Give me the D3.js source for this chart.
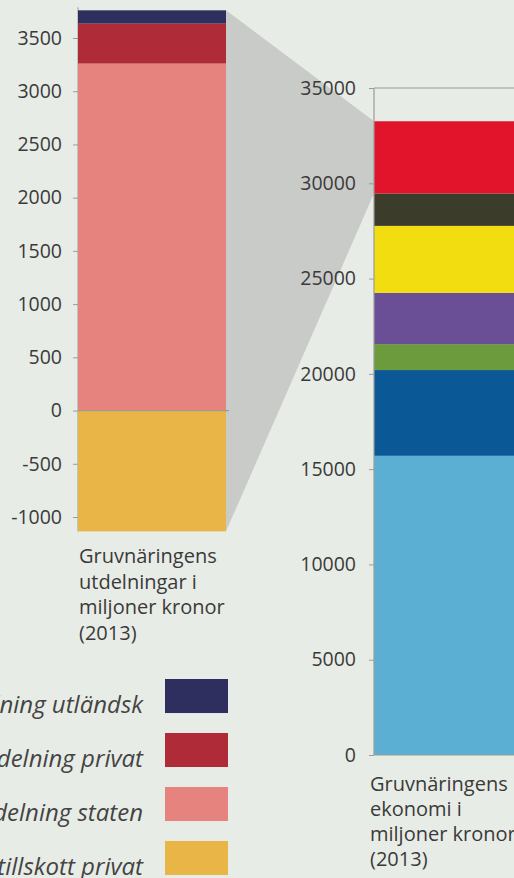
<!DOCTYPE html>
<html>
<head>
<meta charset="utf-8">
<script src="https://cdn.jsdelivr.net/npm/d3@7"></script>
<style>
  html, body { margin: 0; padding: 0; background: #e8ece6; }
  svg { display: block; }
  text { font-family: "Open Sans", "Noto Sans", sans-serif; }
</style>
</head>
<body>
<svg id="chart" width="514" height="878"></svg>
<script>
// ---- Data ----
// Left chart: distributions (bottom to top)
const leftCategories = ["Kapitaltillskott privat", "Utdelning staten", "Utdelning privat", "Utdelning utländsk"];
const leftValues = [-1135, 3260, 375, 125];
const leftColors = ["#eab547", "#e6837f", "#ae2b37", "#2f2f5f"];
const leftTicks = [-1000, -500, 0, 500, 1000, 1500, 2000, 2500, 3000, 3500];
const leftLabel = ["Gruvnäringens", "utdelningar i", "miljoner kronor", "(2013)"];

// Right chart: economy (bottom to top)
const rightCategories = ["Post 1", "Post 2", "Post 3", "Post 4", "Post 5", "Post 6", "Utdelningar"];
const rightValues = [15700, 4500, 1360, 2690, 3515, 1700, 3790];
const rightColors = ["#5aafd3", "#0a5896", "#6b9b3d", "#6a4f97", "#f2dd10", "#3b3c2a", "#e1142c"];
const rightTicks = [0, 5000, 10000, 15000, 20000, 25000, 30000, 35000];
const rightLabel = ["Gruvnäringens", "ekonomi i", "miljoner kronor", "(2013)"];

// Legend (top to bottom)
const legendOrder = ["Utdelning utländsk", "Utdelning privat", "Utdelning staten", "Kapitaltillskott privat"];

// ---- Layout ----
const svg = d3.select("#chart");
const axisColor = "#9a9c99";
const textColor = "#3a3a3a";
const fmt = d => String(d);

function stackSegments(cats, vals) {
  let pos = 0, neg = 0;
  return cats.map((c, i) => {
    const v = vals[i];
    let y0, y1;
    if (v >= 0) { y0 = pos; y1 = pos + v; pos = y1; }
    else { y1 = neg; y0 = neg + v; neg = y0; }
    return { cat: c, value: v, y0, y1, i };
  });
}

const leftSegs = stackSegments(leftCategories, leftValues);
const rightSegs = stackSegments(rightCategories, rightValues);
const leftMax = d3.max(leftSegs, d => d.y1);
const leftMin = d3.min(leftSegs, d => d.y0);

const yL = d3.scaleLinear().domain([-1000, 3500]).range([517, 38]);
const xL = d3.scaleBand().domain(["L"]).range([78, 226]).padding(0);
const yR = d3.scaleLinear().domain([0, 35000]).range([755, 88]);
const xR = d3.scaleBand().domain(["R"]).range([374, 540]).padding(0);

// ---- Connector shadow ----
const redSeg = rightSegs[rightSegs.length - 1];
const lx = xL("L") + xL.bandwidth();
const rx = xR("R");
svg.append("polygon")
  .attr("points", [
    [lx, yL(leftMax)], [rx, yR(redSeg.y1)], [rx, yR(redSeg.y0)], [lx, yL(leftMin)]
  ].map(p => p.join(",")).join(" "))
  .attr("fill", "#c9cbc8");

// ---- Left chart ----
const gL = svg.append("g");
gL.append("line")
  .attr("x1", xL("L")).attr("x2", xL("L"))
  .attr("y1", yL(leftMax) - 3).attr("y2", yL(leftMin))
  .attr("stroke", axisColor).attr("stroke-width", 1);

gL.selectAll("rect").data(leftSegs).join("rect")
  .attr("x", xL("L"))
  .attr("width", xL.bandwidth())
  .attr("y", d => yL(d.y1))
  .attr("height", d => yL(d.y0) - yL(d.y1))
  .attr("fill", d => leftColors[d.i]);

gL.append("line")
  .attr("x1", xL("L")).attr("x2", xL("L") + xL.bandwidth() + 3)
  .attr("y1", yL(0)).attr("y2", yL(0))
  .attr("stroke", axisColor).attr("stroke-width", 1.2);

const axL = gL.append("g")
  .attr("transform", `translate(${xL("L")},0)`)
  .call(d3.axisLeft(yL).tickValues(leftTicks).tickSize(5).tickPadding(11).tickFormat(fmt));
axL.select(".domain").remove();
axL.selectAll(".tick line").attr("stroke", axisColor);
axL.selectAll(".tick text").attr("fill", textColor).style("font-size", "19.5px");

gL.append("text")
  .attr("y", 563)
  .attr("fill", textColor)
  .style("font-size", "20px")
  .selectAll("tspan").data(leftLabel).join("tspan")
  .attr("x", xL("L") + 1)
  .attr("dy", (d, i) => i === 0 ? 0 : 25.7)
  .text(d => d);

// ---- Right chart ----
const gR = svg.append("g");
gR.selectAll("rect").data(rightSegs).join("rect")
  .attr("x", xR("R"))
  .attr("width", xR.bandwidth())
  .attr("y", d => yR(d.y1))
  .attr("height", d => yR(d.y0) - yR(d.y1))
  .attr("fill", d => rightColors[d.i]);

gR.append("line")
  .attr("x1", xR("R")).attr("x2", xR("R"))
  .attr("y1", yR(35000)).attr("y2", yR(0))
  .attr("stroke", axisColor).attr("stroke-width", 1.2);
[35000, 0].forEach(v => {
  gR.append("line")
    .attr("x1", xR("R")).attr("x2", 514)
    .attr("y1", yR(v)).attr("y2", yR(v))
    .attr("stroke", axisColor).attr("stroke-width", 1.2);
});

const axR = gR.append("g")
  .attr("transform", `translate(${xR("R")},0)`)
  .call(d3.axisLeft(yR).tickValues(rightTicks).tickSize(5).tickPadding(13).tickFormat(fmt));
axR.select(".domain").remove();
axR.selectAll(".tick line").attr("stroke", axisColor);
axR.selectAll(".tick text").attr("fill", textColor).style("font-size", "19.5px");

gR.append("text")
  .attr("y", 791)
  .attr("fill", textColor)
  .style("font-size", "20px")
  .selectAll("tspan").data(rightLabel).join("tspan")
  .attr("x", xR("R") - 4)
  .attr("dy", (d, i) => i === 0 ? 0 : 25)
  .text(d => d);

// ---- Legend ----
const legY = d3.scaleBand().domain(legendOrder).range([679, 875]).paddingInner(0.37).paddingOuter(0);
const colorOf = c => leftColors[leftCategories.indexOf(c)];
const leg = svg.append("g");
leg.selectAll("rect").data(legendOrder).join("rect")
  .attr("x", 165).attr("width", 63)
  .attr("y", d => legY(d))
  .attr("height", legY.bandwidth())
  .attr("fill", d => colorOf(d));
leg.selectAll("text").data(legendOrder).join("text")
  .attr("x", 143)
  .attr("y", d => legY(d) + legY.bandwidth())
  .attr("text-anchor", "end")
  .attr("fill", "#444")
  .style("font-size", "24px")
  .style("font-style", "italic")
  .text(d => d);
</script>
</body>
</html>
